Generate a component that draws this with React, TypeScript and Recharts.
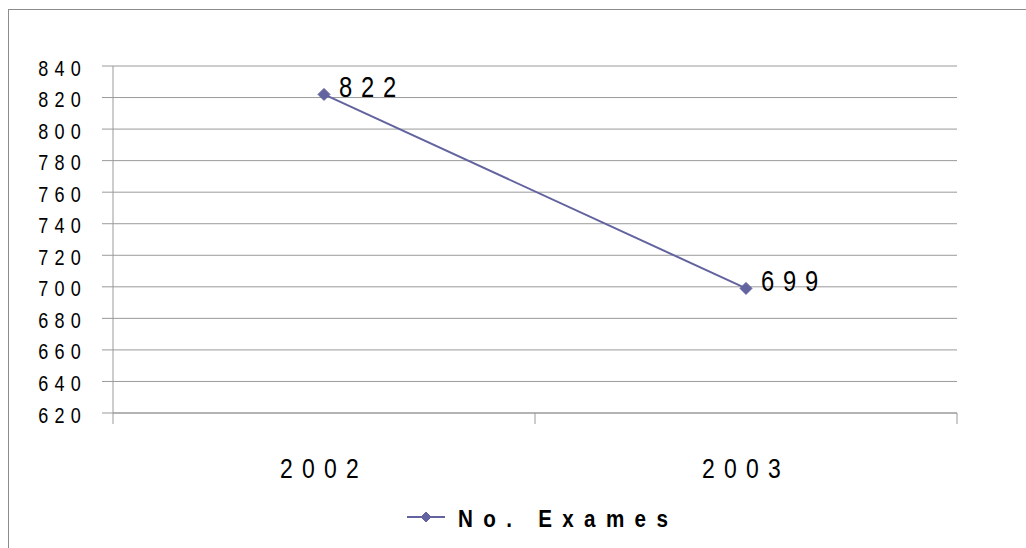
import { CartesianGrid, LabelList, Legend, Line, LineChart, XAxis, YAxis } from "recharts";

const years = ["2002", "2003"];
const exames = [822, 699];
const yTicks = [620, 640, 660, 680, 700, 720, 740, 760, 780, 800, 820, 840];
const seriesName = "No. Exames";

const data = years.map((year, i) => ({ year, exames: exames[i] }));

const LINE = "#62639f";
const GRID = "#9a9a9a";
const FONT = "'Liberation Sans', Arial, sans-serif";
const NARROW = 0.82; // condensed look, like Arial Narrow

// text squeezed horizontally
function NarrowText(props: any) {
  const { x, y, anchor = "start", size, spacing = 0, bold = false, squeeze = NARROW, children } = props;
  return (
    <text
      transform={`translate(${x},${y}) scale(${squeeze},1)`}
      textAnchor={anchor}
      fontFamily={FONT}
      fontSize={size}
      fontWeight={bold ? "bold" : "normal"}
      letterSpacing={spacing}
      fill="#000"
    >
      {children}
    </text>
  );
}

function Diamond(props: any) {
  const { cx, cy, r = 6 } = props;
  if (cx == null || cy == null) return null;
  return (
    <polygon
      points={`${cx},${cy - r} ${cx + r},${cy} ${cx},${cy + r} ${cx - r},${cy}`}
      fill={LINE}
      stroke={LINE}
    />
  );
}

function YTick(props: any) {
  const { x, y, payload } = props;
  return (
    <NarrowText x={x} y={y + 9.5} anchor="end" size={22} spacing={7.6}>
      {payload.value}
    </NarrowText>
  );
}

function XTick(props: any) {
  const { x, y, payload, visibleTicksCount } = props;
  const half = payload.offset ?? 211;
  const last = payload.index === (visibleTicksCount ?? years.length) - 1;
  return (
    <g>
      <line x1={x - half} x2={x - half} y1={y} y2={y + 11} stroke={GRID} />
      {last && <line x1={x + half} x2={x + half} y1={y} y2={y + 11} stroke={GRID} />}
      <NarrowText x={x} y={y + 65} anchor="middle" size={28} spacing={11.2}>
        {payload.value}
      </NarrowText>
    </g>
  );
}

function ValueLabel(props: any) {
  const { x, y, value } = props;
  return (
    <NarrowText x={x + 15} y={y + 3} size={29} spacing={10.7}>
      {value}
    </NarrowText>
  );
}

function LegendContent() {
  return (
    <svg width={300} height={34}>
      <line x1={7} x2={45} y1={12} y2={12} stroke={LINE} strokeWidth={2} />
      <Diamond cx={26} cy={12} r={5} />
      <NarrowText x={58} y={22} size={24} spacing={12} squeeze={0.86} bold>
        {seriesName}
      </NarrowText>
    </svg>
  );
}

export default function App() {
  return (
    <div style={{ position: "fixed", left: 0, top: 0, width: 1026, height: 548, overflow: "hidden", background: "#fff" }}>
      <div
        style={{
          position: "absolute",
          left: 8,
          top: 9,
          width: 1100,
          height: 600,
          border: "1px solid #8c8c8c",
        }}
      />
      <div style={{ position: "absolute", left: 0, top: 0 }}>
        <LineChart width={1026} height={548} data={data} margin={{ top: 66, right: 69, left: 0, bottom: 0 }}>
          <CartesianGrid vertical={false} stroke={GRID} />
          <XAxis
            dataKey="year"
            scale="band"
            height={135}
            axisLine={{ stroke: GRID }}
            tickLine={false}
            tickSize={0}
            tickMargin={0}
            tick={<XTick />}
            interval={0}
          />
          <YAxis
            width={113}
            domain={[620, 840]}
            ticks={yTicks}
            interval={0}
            axisLine={{ stroke: GRID }}
            tickLine={{ stroke: GRID }}
            tickSize={11}
            tickMargin={15}
            tick={<YTick />}
          />
          <Legend
            layout="horizontal"
            verticalAlign="middle"
            align="center"
            wrapperStyle={{ top: 505, left: 400, width: 300 }}
            content={<LegendContent />}
          />
          <Line
            type="linear"
            dataKey="exames"
            name={seriesName}
            stroke={LINE}
            strokeWidth={2}
            dot={<Diamond r={6} />}
            activeDot={false}
            isAnimationActive={false}
          >
            <LabelList dataKey="exames" content={<ValueLabel />} />
          </Line>
        </LineChart>
      </div>
    </div>
  );
}
